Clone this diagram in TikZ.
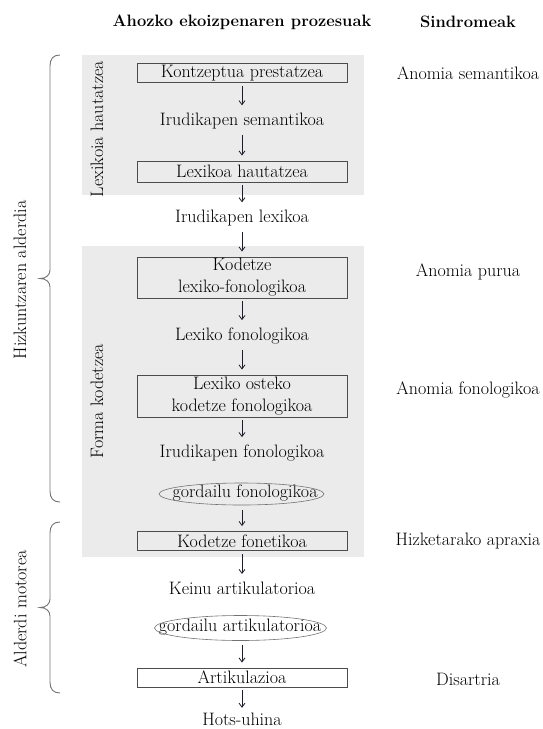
\documentclass[tikz,border=0pt]{standalone}
\usetikzlibrary{shapes.geometric,arrows.meta}
\definecolor{bandgray}{HTML}{EBEBEB}
\definecolor{flowink}{HTML}{1C1C2C}
\begin{document}
\begin{tikzpicture}[x=1pt,y=-1pt,
  every node/.style={font=\fontsize{18}{22}\selectfont, inner sep=0pt},
  band/.style={fill=bandgray, draw=none},
  stage/.style={draw=black!70, line width=0.9pt, minimum width=210pt, minimum height=19pt, align=center},
  step text/.style={inner ysep=2.5pt},
  storeline/.style={draw=black!55, line width=0.6pt},
  flow/.style={-{Straight Barb[length=4pt,width=6pt]}, line width=0.8pt, draw=flowink, shorten <=3pt, shorten >=5pt},
  brace/.style={draw=black!55, line width=0.9pt},
  head/.style={font=\fontsize{16.5}{21}\selectfont\bfseries},
  side/.style={rotate=90}
]
\useasboundingbox (0,0) rectangle (542,729);

% shaded bands
\fill[band] (82,55) rectangle (364,195);
\fill[band] (82,246) rectangle (364,557);

% column headings
\node[head] (h1) at (242,22) {Ahozko ekoizpenaren prozesuak};
\node[head] (h2) at (468,22) {Sindromeak};

% processing chain
\node[stage] (k1) at (242,73) {Kontzeptua prestatzea};
\node[step text] (t1) at (242,121) {Irudikapen semantikoa};
\node[stage, minimum height=21pt] (k2) at (242,171.5) {Lexikoa hautatzea};
\node[step text] (t2) at (242,218) {Irudikapen lexikoa};
\node[stage, minimum height=41pt] (k3) at (242,277.5) {Kodetze\\lexiko-fonologikoa};
\node[step text] (t3) at (242,336) {Lexiko fonologikoa};
\node[stage, minimum height=42pt] (k4) at (242,396) {Lexiko osteko\\kodetze fonologikoa};
\node[step text] (t4) at (242,453) {Irudikapen fonologikoa};
\node (s1) at (245,493) {gordailu fonologikoa};
\draw[storeline] (241.5,494) ellipse [x radius=82.5, y radius=11];
\node[stage] (k5) at (242,541) {Kodetze fonetikoa};
\node[step text] (t5) at (242,588) {Keinu artikulatorioa};
\node (s2) at (240,627) {gordailu artikulatorioa};
\draw[storeline] (240.5,628) ellipse [x radius=86, y radius=12.5];
\node[stage] (k6) at (242,677.5) {Artikulazioa};
\node[anchor=base] (t6) at (242,725.5) {Hots-uhina};

\draw[flow] (k1) -- (t1);
\draw[flow] (t1) -- (k2);
\draw[flow] (k2) -- (t2);
\draw[flow] (t2) -- (k3);
\draw[flow] (k3) -- (t3);
\draw[flow] (t3) -- (k4);
\draw[flow] (k4) -- (t4);
\draw[flow, shorten <=9pt] (s1.south -| k5.north) -- (k5);
\draw[flow] (k5) -- (t5);
\draw[flow, shorten <=10pt] (s2.south -| k6.north) -- (k6);
\draw[flow] (k6) -- (t6);

% band titles
\node[side] (b1) at (97,129) {Lexikoia hautatzea};
\node[side] (b2) at (97,401) {Forma kodetzea};

% syndromes
\node (y1) at (468,73) {Anomia semantikoa};
\node (y2) at (468,272) {Anomia purua};
\node (y3) at (468,390) {Anomia fonologikoa};
\node (y4) at (468,541) {Hizketarako apraxia};
\node (y5) at (468,679) {Disartria};

% braces for the two main parts
\draw[brace] (60,55) .. controls (53,55) and (50,59) .. (50,66) -- (50,270)
  .. controls (50,275) and (46,278.5) .. (40,278.5)
  .. controls (46,278.5) and (50,282) .. (50,287) -- (50,491)
  .. controls (50,498) and (53,502) .. (60,502);
\draw[brace] (60,522) .. controls (53,522) and (50,526) .. (50,533) -- (50,599)
  .. controls (50,604) and (46,607.5) .. (40,607.5)
  .. controls (46,607.5) and (50,611) .. (50,616) -- (50,682)
  .. controls (50,689) and (53,693) .. (60,693);
\node[side] (p1) at (20,280) {Hizkuntzaren alderdia};
\node[side] (p2) at (20,609) {Alderdi motorea};
\end{tikzpicture}
\end{document}
